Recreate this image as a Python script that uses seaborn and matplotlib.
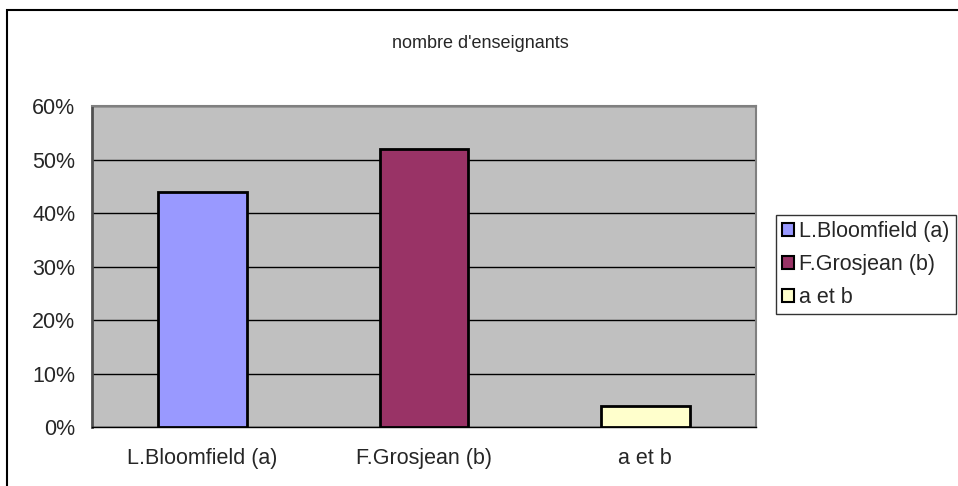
import numpy as np
import pandas as pd
import seaborn as sns
import matplotlib.pyplot as plt
from matplotlib.patches import Patch, Rectangle
from matplotlib.ticker import FixedLocator, PercentFormatter

# Data
categories = ["L.Bloomfield (a)", "F.Grosjean (b)", "a et b"]
values = [44, 52, 4]
colors = ["#9999FF", "#993366", "#FFFFCC"]
title = "nombre d'enseignants"

sns.set_style("white")
plt.rcParams['font.family'] = ['Liberation Sans', 'DejaVu Sans']

df = pd.DataFrame({"cat": categories, "val": values})

fig = plt.figure(figsize=(9.58, 4.86), dpi=100)
ax = fig.add_axes([92 / 958, 1 - 427 / 486, (756 - 92) / 958, (427 - 106) / 486])
ax.set_facecolor("#C0C0C0")

sns.barplot(data=df, x="cat", y="val", hue="cat", palette=colors, saturation=1, width=0.4,
            edgecolor="black", linewidth=2, legend=False, ax=ax, zorder=3)

ax.set_ylim(0, 60)
ax.set_xlim(-0.5, 2.5)
ax.yaxis.set_major_locator(FixedLocator(np.arange(0, 61, 10)))
ax.yaxis.set_major_formatter(PercentFormatter(decimals=0))
ax.grid(axis="y", color="black", linewidth=1, zorder=1)
ax.set_axisbelow(True)

# category labels between boundary ticks (Excel style)
ax.set_xticks([-0.5, 0.5, 1.5, 2.5])
ax.set_xticklabels([])
ax.set_xticks([0, 1, 2], minor=True)
ax.set_xticklabels(categories, minor=True, fontsize=15.5)
ax.tick_params(axis="x", which="major", direction="out", length=6, width=1, color="black")
ax.tick_params(axis="x", which="minor", length=0, pad=15)
ax.tick_params(axis="y", direction="out", length=6, width=1, color="black", labelsize=15.5, pad=6)
ax.set_xlabel("")
ax.set_ylabel("")

for s in ["top", "right"]:
    ax.spines[s].set_color("#808080")
    ax.spines[s].set_linewidth(1.5)
ax.spines["left"].set_color("#505050")
ax.spines["left"].set_linewidth(2)
ax.spines["bottom"].set_color("black")
ax.spines["bottom"].set_linewidth(1)

fig.text(480 / 958, 1 - 43 / 486, title, ha="center", va="center", fontsize=13)

handles = [Patch(facecolor=c, edgecolor="black", linewidth=1.5) for c in colors]
leg = fig.legend(handles, categories, loc="upper left",
                 bbox_to_anchor=(776 / 958, 1 - 215 / 486), fontsize=15.5,
                 frameon=True, fancybox=False, handlelength=0.55, handleheight=0.55,
                 handletextpad=0.25, labelspacing=0.55, borderpad=0.28, borderaxespad=0)
leg.get_frame().set_edgecolor("black")
leg.get_frame().set_linewidth(1)

# outer chart frame (only left/top edges visible)
fig.patches.append(Rectangle((7 / 958, -0.1), 1.1, 1 - 10 / 486 + 0.1, transform=fig.transFigure,
                             fill=False, edgecolor="black", linewidth=1.5))

fig.savefig("out.png", dpi=100)
